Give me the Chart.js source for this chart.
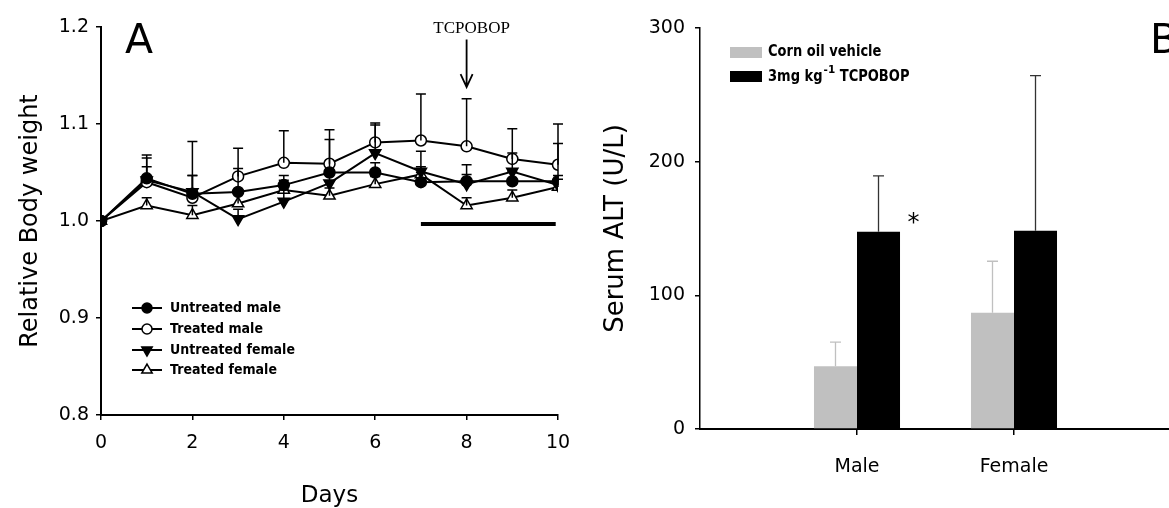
<!DOCTYPE html>
<html><head><meta charset="utf-8">
<script src="https://cdn.jsdelivr.net/npm/chart.js@4.4.1/dist/chart.umd.min.js"></script>
<style>
html,body{margin:0;padding:0;background:#fff;overflow:hidden;width:1169px;height:508px;position:relative;}
#wa{position:absolute;left:0;top:0;width:600px;height:508px;}
#wb{position:absolute;left:600px;top:0;width:600px;height:508px;}
</style></head><body>
<div id="wa"><canvas id="ca" width="600" height="508"></canvas></div>
<div id="wb"><canvas id="cb" width="600" height="508"></canvas></div>
<script>
// ---------- Panel A data ----------
const days = [0,1,2,3,4,5,6,7,8,9,10];
const untreatedMale      = [1.000,1.044,1.028,1.030,1.037,1.050,1.050,1.040,1.041,1.041,1.041];
const treatedMale        = [1.000,1.040,1.024,1.046,1.060,1.059,1.081,1.083,1.077,1.064,1.058];
const untreatedFemale    = [1.000,1.042,1.030,1.002,1.020,1.039,1.070,1.051,1.038,1.051,1.037];
const treatedFemale      = [1.000,1.016,1.006,1.018,1.032,1.026,1.038,1.048,1.016,1.024,1.035];
const untreatedMaleErr   = [0,0.024,0.019,0.024,0.010,0.034,0.010,0.010,0.017,0.010,0.039];
const treatedMaleErr     = [0,0.025,0.058,0.029,0.033,0.035,0.020,0.048,0.049,0.031,0.042];
const untreatedFemaleErr = [0,0.014,0.017,0.010,0.012,0.012,0.029,0.021,0.010,0.019,0.010];
const treatedFemaleErr   = [0,0.008,0.010,0.010,0.010,0.008,0.008,0.008,0.008,0.008,0.008];
const seriesLabels = ['Untreated male','Treated male','Untreated female','Treated female'];
const treatmentDays = [7, 9.95];
const treatmentLevel = 0.997;
const arrowDay = 8, arrowTop = 1.187, arrowTip = 1.138, arrowLabel = 'TCPOBOP';
const yTicksA = [0.8, 0.9, 1.0, 1.1, 1.2];

// ---------- Panel B data ----------
const groups = ['', 'Male', 'Female', ''];
const cornOil = [null, 47, 87, null];
const cornOilErr = [null, 18, 38.5, null];
const tcpobop = [null, 147.6, 148.4, null];
const tcpobopErr = [null, 41.7, 116, null];
const legendB = ['Corn oil vehicle', '3mg kg', '-1', ' TCPOBOP'];

const F = '"DejaVu Sans", Verdana, sans-serif';
Chart.defaults.color = '#000';
Chart.defaults.font.family = F;

function condText(ctx, text, x, y, size, sx) {
  ctx.save(); ctx.translate(x, y); ctx.scale(sx, 1);
  ctx.font = 'bold ' + size + 'px ' + F;
  ctx.textBaseline = 'middle'; ctx.textAlign = 'left';
  ctx.fillText(text, 0, 0);
  const w = ctx.measureText(text).width * sx;
  ctx.restore(); return w;
}

const styleA = [
  {pointStyle:'circle', rot:0, fill:'#000', r:5.5},
  {pointStyle:'circle', rot:0, fill:'#fff', r:5.5},
  {pointStyle:'triangle', rot:180, fill:'#000', r:6.5},
  {pointStyle:'triangle', rot:0, fill:'#fff', r:6.5}
];
const valsA = [untreatedMale, treatedMale, untreatedFemale, treatedFemale];
const errsA = [untreatedMaleErr, treatedMaleErr, untreatedFemaleErr, treatedFemaleErr];

const dsA = valsA.map((arr, k) => ({
  label: seriesLabels[k],
  data: days.map((d, i) => ({x: d, y: arr[i]})),
  borderColor: '#000', borderWidth: 2, tension: 0,
  pointStyle: styleA[k].pointStyle, pointRotation: styleA[k].rot,
  pointRadius: styleA[k].r, pointBackgroundColor: styleA[k].fill,
  pointBorderColor: '#000', pointBorderWidth: 1.5,
  errors: errsA[k]
}));
dsA.push({
  label: 'treatment',
  data: treatmentDays.map(d => ({x: d, y: treatmentLevel})),
  borderColor: '#000', borderWidth: 4, pointRadius: 0, borderCapStyle: 'butt'
});

const pluginA = {
  id: 'extrasA',
  afterDatasetsDraw(chart) {
    const ctx = chart.ctx, xs = chart.scales.x, ys = chart.scales.y;
    ctx.save();
    ctx.strokeStyle = '#000'; ctx.lineWidth = 1.5;
    chart.data.datasets.forEach(ds => {
      if (!ds.errors) return;
      ds.data.forEach((p, i) => {
        const e = ds.errors[i]; if (!e) return;
        const x = xs.getPixelForValue(p.x);
        const y0 = ys.getPixelForValue(p.y), y1 = ys.getPixelForValue(p.y + e);
        ctx.beginPath(); ctx.moveTo(x, y0); ctx.lineTo(x, y1);
        ctx.moveTo(x - 5, y1); ctx.lineTo(x + 5, y1); ctx.stroke();
      });
    });
    ctx.restore();
  },
  afterDraw(chart) {
    const ctx = chart.ctx, xs = chart.scales.x, ys = chart.scales.y;
    ctx.save();
    const ax = xs.getPixelForValue(arrowDay);
    const ay0 = ys.getPixelForValue(arrowTop), ay1 = ys.getPixelForValue(arrowTip);
    ctx.strokeStyle = '#000'; ctx.lineWidth = 1.8;
    ctx.beginPath(); ctx.moveTo(ax, ay0); ctx.lineTo(ax, ay1);
    ctx.moveTo(ax - 6, ay1 - 13); ctx.lineTo(ax, ay1); ctx.lineTo(ax + 6, ay1 - 13);
    ctx.stroke();
    ctx.fillStyle = '#000';
    ctx.font = '17px "Liberation Serif", "Times New Roman", serif';
    ctx.textAlign = 'center'; ctx.textBaseline = 'alphabetic';
    ctx.fillText(arrowLabel, ax + 5, ay0 - 7);
    ctx.font = '41px ' + F; ctx.textAlign = 'left';
    ctx.fillText('A', chart.chartArea.left + 24, 53);
    const lx = 132, rows = [308, 329, 350, 370];
    chart.data.datasets.slice(0, 4).forEach((ds, k) => {
      const y = rows[k];
      ctx.strokeStyle = '#000'; ctx.lineWidth = 2;
      ctx.beginPath(); ctx.moveTo(lx, y); ctx.lineTo(lx + 30, y); ctx.stroke();
      ctx.fillStyle = styleA[k].fill; ctx.strokeStyle = '#000'; ctx.lineWidth = 1.5;
      Chart.helpers.drawPoint(ctx, {pointStyle: styleA[k].pointStyle, rotation: styleA[k].rot,
        radius: styleA[k].r - 0.5, borderWidth: 1.5}, lx + 15, y);
      ctx.fillStyle = '#000';
      condText(ctx, ds.label, lx + 38, y, 14, 0.9);
    });
    ctx.restore();
  }
};

new Chart(document.getElementById('ca'), {
  type: 'line',
  data: {datasets: dsA},
  options: {
    responsive: false, animation: false, devicePixelRatio: 1,
    layout: {padding: {top: 27, right: 42, bottom: 0, left: 0}},
    plugins: {legend: {display: false}, tooltip: {enabled: false}},
    scales: {
      x: {
        type: 'linear', min: 0, max: 10,
        afterFit(s) { s.height = 93; },
        ticks: {stepSize: 2, font: {size: 19}, padding: 12, maxRotation: 0, color: '#000'},
        grid: {drawOnChartArea: false, drawTicks: true, tickLength: 5, color: '#000', lineWidth: 1.5},
        border: {display: true, color: '#000', width: 2},
        title: {display: true, text: 'Days', color: '#000', font: {size: 23, lineHeight: 1}, padding: {top: 0, bottom: 0}}
      },
      y: {
        min: 0.8, max: 1.2,
        afterFit(s) { s.width = 101; },
        afterBuildTicks(s) { s.ticks = yTicksA.map(v => ({value: v})); },
        ticks: {font: {size: 19}, padding: 7, color: '#000', callback: v => Number(v).toFixed(1)},
        grid: {drawOnChartArea: false, drawTicks: true, tickLength: 5, color: '#000', lineWidth: 1.5},
        border: {display: true, color: '#000', width: 2},
        title: {display: true, text: 'Relative Body weight', color: '#000', font: {size: 24, lineHeight: 1.2}, padding: {top: 16, bottom: 0}}
      }
    }
  },
  plugins: [pluginA]
});

// ---------- Panel B ----------
const pluginB = {
  id: 'extrasB',
  afterDatasetsDraw(chart) {
    const ctx = chart.ctx, ys = chart.scales.y;
    ctx.save();
    chart.data.datasets.forEach((ds, di) => {
      const meta = chart.getDatasetMeta(di);
      ds.data.forEach((v, i) => {
        const e = ds.errors[i]; if (v == null || !e) return;
        const x = meta.data[i].x;
        const y0 = ys.getPixelForValue(v), y1 = ys.getPixelForValue(v + e);
        ctx.strokeStyle = ds.errColor; ctx.lineWidth = 1.3;
        ctx.beginPath(); ctx.moveTo(x, y0); ctx.lineTo(x, y1);
        ctx.moveTo(x - 5.5, y1); ctx.lineTo(x + 5.5, y1); ctx.stroke();
      });
    });
    const m = chart.getDatasetMeta(1).data[1];
    ctx.fillStyle = '#000'; ctx.font = '24px ' + F;
    ctx.textAlign = 'center'; ctx.textBaseline = 'middle';
    ctx.fillText('*', m.x + 35, ys.getPixelForValue(tcpobop[1]) - 8);
    ctx.restore();
  },
  afterDraw(chart) {
    const ctx = chart.ctx;
    ctx.save();
    ctx.fillStyle = '#000'; ctx.font = '41px ' + F;
    ctx.textAlign = 'left'; ctx.textBaseline = 'alphabetic';
    ctx.fillText('B', 550, 53);
    const sx = 130;
    ctx.fillStyle = chart.data.datasets[0].backgroundColor; ctx.fillRect(sx, 47, 32, 11);
    ctx.fillStyle = chart.data.datasets[1].backgroundColor; ctx.fillRect(sx, 71, 32, 11);
    ctx.fillStyle = '#000';
    condText(ctx, legendB[0], sx + 38, 52.5, 15, 0.87);
    let w = condText(ctx, legendB[1], sx + 38, 77, 15, 0.87);
    let w2 = condText(ctx, legendB[2], sx + 38 + w + 1, 70, 11, 0.95);
    condText(ctx, legendB[3], sx + 38 + w + w2 + 1, 77, 15, 0.87);
    ctx.restore();
  }
};

new Chart(document.getElementById('cb'), {
  type: 'bar',
  data: {
    labels: groups,
    datasets: [
      {label: 'Corn oil vehicle', data: cornOil, errors: cornOilErr, backgroundColor: '#c0c0c0', errColor: '#c0c0c0',
       categoryPercentage: 0.548, barPercentage: 1, borderWidth: 0},
      {label: '3mg kg-1 TCPOBOP', data: tcpobop, errors: tcpobopErr, backgroundColor: '#000', errColor: '#333',
       categoryPercentage: 0.548, barPercentage: 1, borderWidth: 0}
    ]
  },
  options: {
    responsive: false, animation: false, devicePixelRatio: 1,
    layout: {padding: {top: 28, right: 29, bottom: 0, left: 0}},
    plugins: {legend: {display: false}, tooltip: {enabled: false}},
    scales: {
      x: {
        offset: false,
        afterFit(s) { s.height = 79; },
        ticks: {font: {size: 19}, padding: 21, color: '#000', maxRotation: 0, autoSkip: false},
        grid: {offset: false, drawOnChartArea: false, drawTicks: true, tickLength: 6, lineWidth: 1.5,
               tickColor: c => (groups[c.index] ? '#000' : 'rgba(0,0,0,0)'), color: '#000'},
        border: {display: true, color: '#000', width: 2}
      },
      y: {
        min: 0, max: 300,
        afterFit(s) { s.width = 100; },
        ticks: {stepSize: 100, font: {size: 19}, padding: 10, color: '#000'},
        grid: {drawOnChartArea: false, drawTicks: true, tickLength: 5, color: '#000', lineWidth: 1.5},
        border: {display: true, color: '#000', width: 1.5},
        title: {display: true, text: 'Serum ALT (U/L)', color: '#000', font: {size: 26, lineHeight: 1.2}, padding: {top: 1, bottom: 0}}
      }
    }
  },
  plugins: [pluginB]
});
</script>
</body></html>
